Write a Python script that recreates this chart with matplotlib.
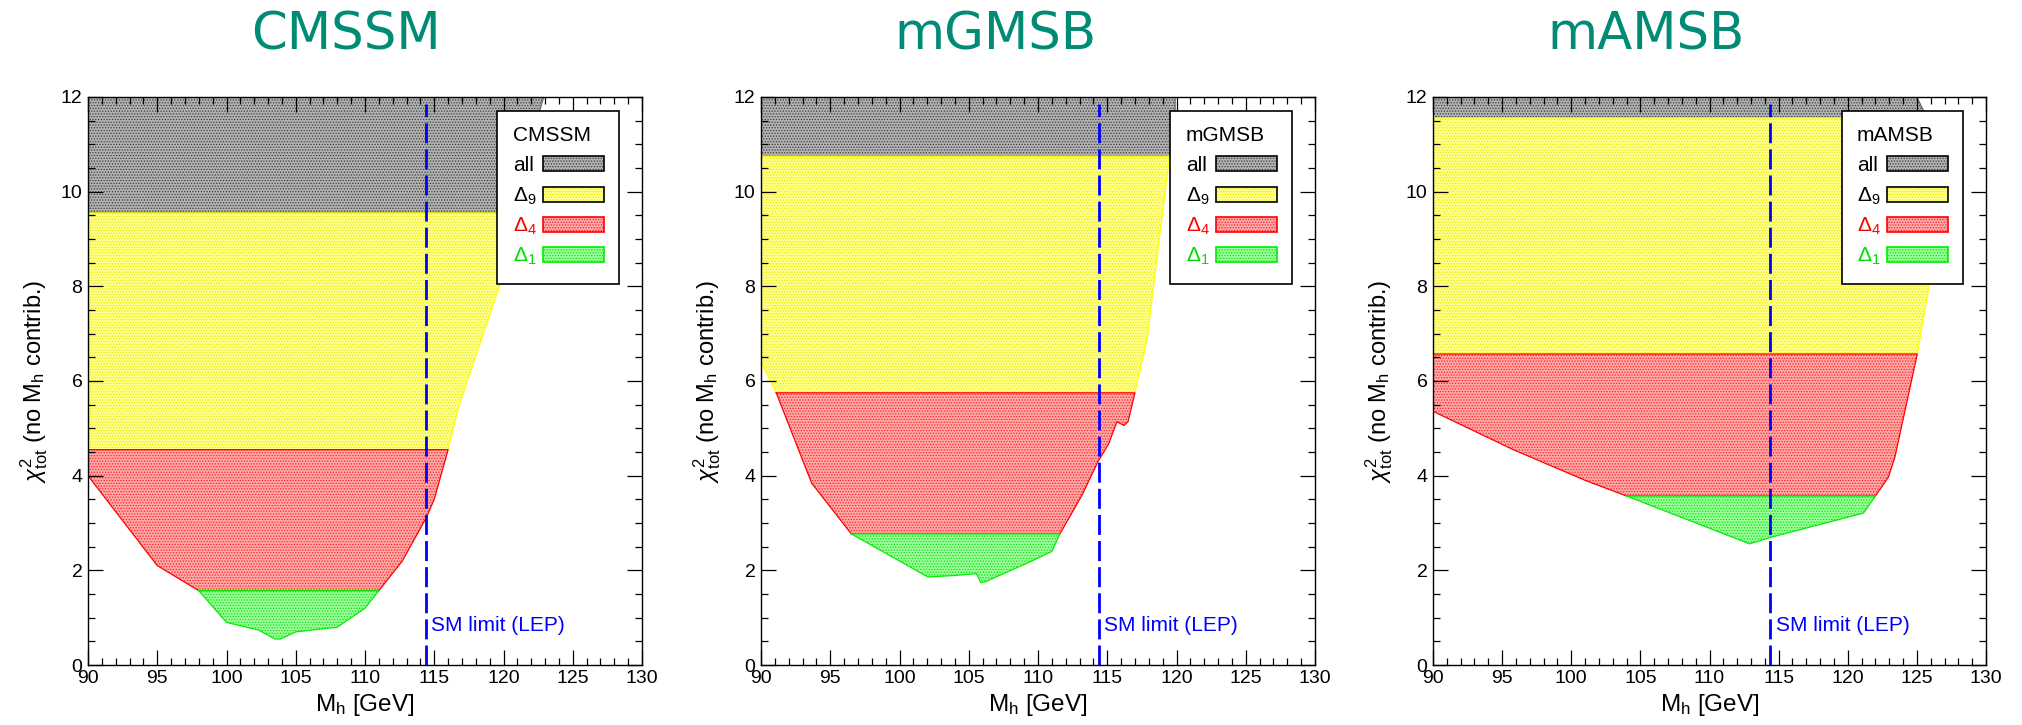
import matplotlib
matplotlib.use('Agg')
import matplotlib.pyplot as plt
from matplotlib.patches import Rectangle, Polygon
from matplotlib.ticker import MultipleLocator

plt.rcParams['font.family'] = ['Liberation Sans', 'DejaVu Sans']
plt.rcParams['mathtext.fontset'] = 'custom'
plt.rcParams['mathtext.rm'] = 'Liberation Sans'
plt.rcParams['mathtext.it'] = 'Liberation Sans:italic'
plt.rcParams['mathtext.bf'] = 'Liberation Sans:bold'
plt.rcParams['hatch.linewidth'] = 0.6

# ---------------- data ----------------
models = ['CMSSM', 'mGMSB', 'mAMSB']
sm_limit = 114.4
legend_labels = ['all', r'$\Delta_9$', r'$\Delta_4$', r'$\Delta_1$']

# CMSSM
cmssm_all_x = [90, 90, 122.9, 122.7, 120.5]
cmssm_all_y = [9.55, 12, 12, 11.8, 9.55]
cmssm_d9_x = [90, 90, 120.5, 119.7, 116.75, 116.0]
cmssm_d9_y = [4.55, 9.55, 9.55, 8.0, 5.45, 4.55]
cmssm_d4_x = [90, 90, 95, 98, 111, 112.7, 114.4, 115.0, 116.0]
cmssm_d4_y = [4.55, 4.0, 2.1, 1.57, 1.57, 2.2, 3.1, 3.5, 4.55]
cmssm_d1_x = [98, 100, 102.3, 103.5, 103.9, 105.0, 108.0, 110.0, 111.0]
cmssm_d1_y = [1.57, 0.9, 0.74, 0.55, 0.55, 0.70, 0.80, 1.2, 1.57]

# mGMSB
mgmsb_all_x = [90, 90, 119.9, 119.9, 119.5]
mgmsb_all_y = [10.75, 12, 12, 11.7, 10.75]
mgmsb_d9_x = [90, 90, 119.5, 119.0, 118.5, 117.9, 117.0, 91.1]
mgmsb_d9_y = [6.4, 10.75, 10.75, 9.56, 8.4, 6.92, 5.75, 5.75]
mgmsb_d4_x = [91.1, 93.66, 96.52, 111.58, 113.2, 114.3, 115.1, 115.7, 116.2, 116.5, 117.0]
mgmsb_d4_y = [5.75, 3.84, 2.77, 2.77, 3.6, 4.28, 4.67, 5.14, 5.06, 5.14, 5.75]
mgmsb_d1_x = [96.52, 102.05, 103.9, 105.56, 105.87, 106.2, 109.2, 111.0, 111.58]
mgmsb_d1_y = [2.77, 1.86, 1.89, 1.93, 1.74, 1.76, 2.15, 2.4, 2.77]

# mAMSB
mamsb_all_x = [90, 90, 125.0, 125.5, 127.9]
mamsb_all_y = [11.56, 12, 12, 11.7, 11.56]
mamsb_d9_x = [90, 90, 127.9, 125.87, 125.03]
mamsb_d9_y = [6.57, 11.56, 11.56, 8.0, 6.57]
mamsb_d4_x = [90, 90, 95.8, 101.1, 104.0, 122.0, 122.94, 123.4, 125.03]
mamsb_d4_y = [6.57, 5.36, 4.55, 3.89, 3.57, 3.57, 3.97, 4.38, 6.57]
mamsb_d1_x = [104.0, 112.9, 114.46, 121.14, 122.0]
mamsb_d1_y = [3.57, 2.56, 2.70, 3.21, 3.57]

regions = {
    'CMSSM': [(cmssm_all_x, cmssm_all_y), (cmssm_d9_x, cmssm_d9_y),
              (cmssm_d4_x, cmssm_d4_y), (cmssm_d1_x, cmssm_d1_y)],
    'mGMSB': [(mgmsb_all_x, mgmsb_all_y), (mgmsb_d9_x, mgmsb_d9_y),
              (mgmsb_d4_x, mgmsb_d4_y), (mgmsb_d1_x, mgmsb_d1_y)],
    'mAMSB': [(mamsb_all_x, mamsb_all_y), (mamsb_d9_x, mamsb_d9_y),
              (mamsb_d4_x, mamsb_d4_y), (mamsb_d1_x, mamsb_d1_y)],
}

# ---------------- style ----------------
face_cols = ['#b2b2b2', '#ffff90', '#ffa8a8', '#9cff9c']
hatch_cols = ['#3c3c3c', '#ecec00', '#ff2020', '#10dc10']
line_cols = ['#666666', '#ffff00', '#ff0000', '#00ee00']
swatch_edge = ['#000000', '#000000', '#ff0000', '#00ee00']
label_cols = ['#000000', '#000000', '#ff0000', '#00dd00']
teal = '#008B74'

W, H = 2022, 725
fig = plt.figure(figsize=(W / 100, H / 100), dpi=100)

ax_left_px = [88, 761, 1433]
ax_w_px = [554, 554, 553]
ax_top_px, ax_bot_px = 97, 665
title_x_px = [346, 995, 1646]

for i, m in enumerate(models):
    ax = fig.add_axes([ax_left_px[i] / W, 1 - ax_bot_px / H,
                       ax_w_px[i] / W, (ax_bot_px - ax_top_px) / H])
    ax.set_xlim(90, 130)
    ax.set_ylim(0, 12)

    for k, (xs, ys) in enumerate(regions[m]):
        poly = Polygon(list(zip(xs, ys)), closed=True, facecolor=face_cols[k],
                       edgecolor=hatch_cols[k], hatch='......', linewidth=0,
                       zorder=1 + 0.1 * k)
        ax.add_patch(poly)
        ax.plot(list(xs) + [xs[0]], list(ys) + [ys[0]], color=line_cols[k],
                lw=0.9, zorder=1.05 + 0.1 * k)

    ax.plot([sm_limit, sm_limit], [0, 11.86], color='#0000ff', lw=2,
            linestyle=(0, (7.2, 2.2)), zorder=3)
    ax.text(sm_limit + 0.38, 0.84, 'SM limit (LEP)', color='#0000ff',
            fontsize=15, va='center', ha='left', zorder=3)

    ax.xaxis.set_major_locator(MultipleLocator(5))
    ax.xaxis.set_minor_locator(MultipleLocator(1))
    ax.yaxis.set_major_locator(MultipleLocator(2))
    ax.yaxis.set_minor_locator(MultipleLocator(0.5))
    ax.tick_params(which='both', direction='in', top=True, right=True,
                   width=0.9, labelsize=14)
    ax.tick_params(which='major', length=10.5)
    ax.tick_params(which='minor', length=5.3)
    ax.tick_params(axis='x', pad=3.5)
    ax.tick_params(axis='y', pad=4)
    for s in ax.spines.values():
        s.set_linewidth(1.0)
        s.set_zorder(4)

    ax.set_xlabel(r'M$_{\rm h}$ [GeV]', fontsize=17.5)
    ax.xaxis.label.set_va('center')
    ax.xaxis.set_label_coords(0.5, -(705 - ax_bot_px) / (ax_bot_px - ax_top_px))
    ax.set_ylabel(r'$\chi^{2}_{\rm tot}$ (no M$_{\rm h}$ contrib.)', fontsize=17)
    ax.yaxis.label.set_va('center')
    ax.yaxis.set_label_coords(-0.097, 0.5)

    # legend box
    lx0, lx1, ly0, ly1 = 0.739, 0.959, 0.670, 0.976
    ax.add_patch(Rectangle((lx0, ly0), lx1 - lx0, ly1 - ly0, transform=ax.transAxes,
                           facecolor='white', edgecolor='black', lw=1.2, zorder=5))
    ax.text(0.7666, 0.923, m, transform=ax.transAxes, fontsize=15,
            va='baseline', ha='left', zorder=6)
    row_c = [0.883, 0.829, 0.776, 0.723]
    sh = 0.0264
    for k in range(4):
        yb = row_c[k] - sh / 2
        ax.add_patch(Rectangle((0.821, yb), 0.931 - 0.821, sh, transform=ax.transAxes,
                               facecolor=face_cols[k], edgecolor=hatch_cols[k],
                               hatch='......', lw=0, zorder=6))
        ax.add_patch(Rectangle((0.821, yb), 0.931 - 0.821, sh, transform=ax.transAxes,
                               facecolor='none', edgecolor=swatch_edge[k],
                               lw=1.2, zorder=6.5))
        ax.text(0.7666, yb, legend_labels[k], transform=ax.transAxes,
                fontsize=15, color=label_cols[k], va='baseline', ha='left', zorder=6)

    fig.text(title_x_px[i] / W, 1 - 36 / H, m, color=teal, fontsize=37,
             family='DejaVu Sans', ha='center', va='center')

fig.savefig('out.png', dpi=100)
